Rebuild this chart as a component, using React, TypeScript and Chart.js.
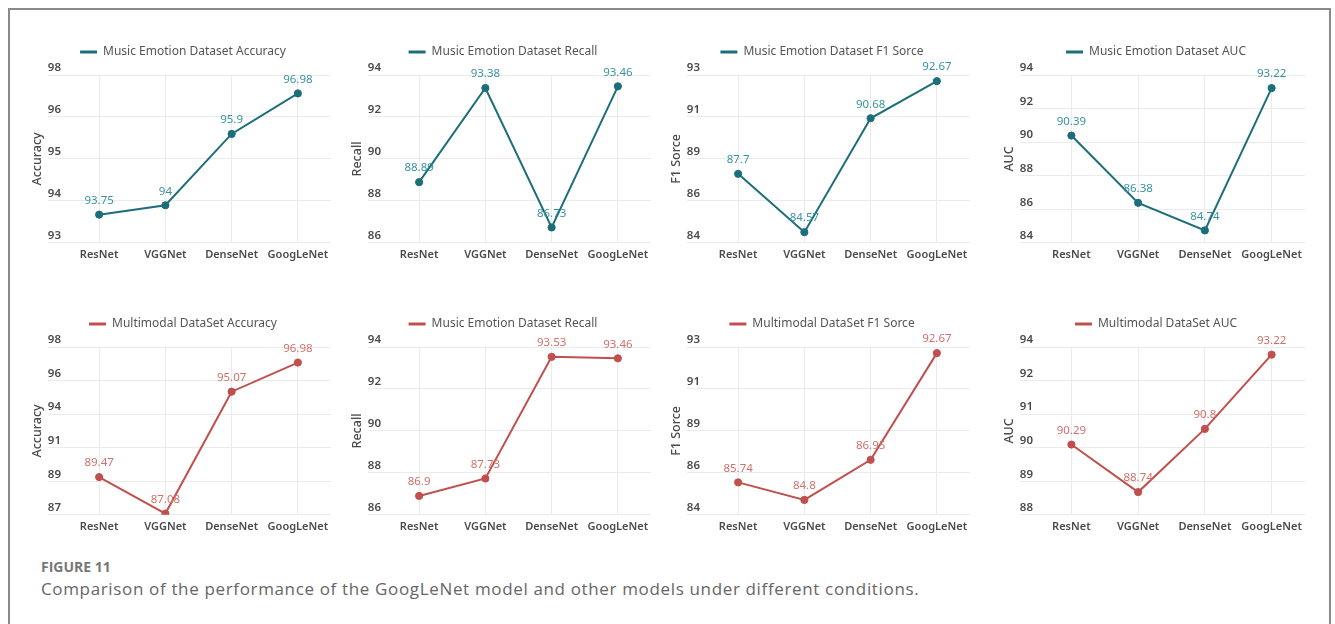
import React, { useEffect, useRef } from 'react';
import { Chart, registerables } from 'chart.js';

Chart.register(...registerables);

// Models compared in every panel
const models = ['ResNet', 'VGGNet', 'DenseNet', 'GoogLeNet'];

// Music Emotion dataset results
const musicAccuracy = [93.75, 94, 95.9, 96.98];
const musicRecall = [88.89, 93.38, 86.73, 93.46];
const musicF1 = [87.7, 84.57, 90.68, 92.67];
const musicAUC = [90.39, 86.38, 84.74, 93.22];

// Multimodal dataset results
const multiAccuracy = [89.47, 87.08, 95.07, 96.98];
const multiRecall = [86.9, 87.73, 93.53, 93.46];
const multiF1 = [85.74, 84.8, 86.95, 92.67];
const multiAUC = [90.29, 88.74, 90.8, 93.22];

// Y tick labels, bottom to top
const accTicksTop = ['93', '94', '95', '96', '98'];
const recallTicks = ['86', '88', '90', '92', '94'];
const f1Ticks = ['84', '86', '89', '91', '93'];
const aucTicksTop = ['84', '86', '88', '90', '92', '94'];
const accTicksBottom = ['87', '89', '91', '94', '96', '98'];
const aucTicksBottom = ['88', '89', '90', '91', '92', '94'];

const TEAL = '#1d6e7b';
const TEAL_LABEL = '#3a92a1';
const RED = '#c0504d';
const RED_LABEL = '#d0716c';
const GRID = '#ebebeb';
const AXIS_TEXT = '#4a4a4a';
const FONT = "'Noto Sans', 'Open Sans', sans-serif";

type PanelSpec = {
  left: number;
  top: number;
  width: number;
  height: number;
  legend: string;
  axisTitle: string;
  values: number[];
  yMin: number;
  yMax: number;
  tickLabels: string[];
  color: string;
  labelColor: string;
};

// Writes each point's value just above the marker
const valueLabels = {
  id: 'valueLabels',
  afterDatasetsDraw(chart: any) {
    const { ctx } = chart;
    chart.data.datasets.forEach((ds: any, di: number) => {
      const meta = chart.getDatasetMeta(di);
      ctx.save();
      ctx.font = `400 11.5px ${FONT}`;
      ctx.fillStyle = ds.valueColor;
      ctx.textAlign = 'center';
      ctx.textBaseline = 'middle';
      meta.data.forEach((pt: any, i: number) => {
        ctx.fillText(String(ds.data[i]), pt.x, pt.y - 14);
      });
      ctx.restore();
    });
  },
};

// Leaves some room between the legend and the plot
const legendGap = {
  id: 'legendGap',
  beforeInit(chart: any) {
    const legend = chart.legend;
    if (!legend) return;
    const fit = legend.fit;
    legend.fit = function () {
      fit.call(legend);
      this.height += 7;
    };
  },
};

function LinePanel(p: PanelSpec) {
  const ref = useRef<HTMLCanvasElement>(null);

  useEffect(() => {
    if (!ref.current) return;
    const chart = new Chart(ref.current, {
      type: 'line',
      data: {
        labels: models,
        datasets: [
          {
            label: p.legend,
            data: p.values,
            borderColor: p.color,
            backgroundColor: p.color,
            borderWidth: 2,
            pointRadius: 3.6,
            pointBackgroundColor: p.color,
            pointBorderColor: p.color,
            pointBorderWidth: 1,
            tension: 0,
            fill: false,
            valueColor: p.labelColor,
          } as any,
        ],
      },
      options: {
        animation: false,
        responsive: false,
        layout: { padding: 0 },
        plugins: {
          legend: {
            display: true,
            position: 'top',
            align: 'center',
            labels: {
              boxWidth: 17,
              boxHeight: 3,
              padding: 10,
              color: '#555',
              font: { family: FONT, size: 12 },
              generateLabels: (c: any) =>
                c.data.datasets.map((ds: any, i: number) => ({
                  text: ds.label,
                  fillStyle: ds.borderColor,
                  strokeStyle: ds.borderColor,
                  lineWidth: 0,
                  hidden: false,
                  datasetIndex: i,
                  fontColor: '#555',
                })),
            },
          },
          tooltip: { enabled: false },
        },
        scales: {
          x: {
            type: 'category',
            offset: true,
            grid: { color: GRID, drawTicks: false, offset: false },
            border: { display: false },
            ticks: {
              color: AXIS_TEXT,
              padding: 5,
              autoSkip: false,
              maxRotation: 0,
              minRotation: 0,
              font: { family: FONT, size: 11, weight: '600' },
            },
          },
          y: {
            type: 'linear',
            min: p.yMin,
            max: p.yMax,
            afterFit: (s: any) => {
              s.width = 36;
            },
            ticks: {
              count: p.tickLabels.length,
              callback: (_v: any, i: number) => p.tickLabels[i],
              color: AXIS_TEXT,
              padding: -13,
              labelOffset: -7,
              font: { family: FONT, size: 11.5, weight: '600' },
            },
            grid: { color: GRID, tickLength: 18, drawTicks: true },
            border: { display: false },
            title: {
              display: true,
              text: p.axisTitle,
              color: AXIS_TEXT,
              padding: { top: 0, bottom: 0 },
              font: { family: FONT, size: 12.5, weight: '500' },
            },
          },
        },
      },
      plugins: [valueLabels, legendGap],
    });
    return () => chart.destroy();
  }, []);

  return (
    <canvas
      ref={ref}
      width={p.width}
      height={p.height}
      style={{ position: 'absolute', left: p.left, top: p.top, width: p.width, height: p.height }}
    />
  );
}

const colLeft = [30, 350, 669, 1002];
const colWidth = [306, 306, 306, 308];
const rowTop = [36, 308];
const PANEL_H = 230;

const topRow = [
  { legend: 'Music Emotion Dataset Accuracy', axisTitle: 'Accuracy', values: musicAccuracy, yMin: 93, yMax: 97.47, tickLabels: accTicksTop },
  { legend: 'Music Emotion Dataset Recall', axisTitle: 'Recall', values: musicRecall, yMin: 86, yMax: 94, tickLabels: recallTicks },
  { legend: 'Music Emotion Dataset F1 Sorce', axisTitle: 'F1 Sorce', values: musicF1, yMin: 84, yMax: 93, tickLabels: f1Ticks },
  { legend: 'Music Emotion Dataset AUC', axisTitle: 'AUC', values: musicAUC, yMin: 84, yMax: 94, tickLabels: aucTicksTop },
];

const bottomRow = [
  { legend: 'Multimodal DataSet Accuracy', axisTitle: 'Accuracy', values: multiAccuracy, yMin: 87, yMax: 98, tickLabels: accTicksBottom },
  { legend: 'Music Emotion Dataset Recall', axisTitle: 'Recall', values: multiRecall, yMin: 86, yMax: 94, tickLabels: recallTicks },
  { legend: 'Multimodal DataSet F1 Sorce', axisTitle: 'F1 Sorce', values: multiF1, yMin: 84, yMax: 93, tickLabels: f1Ticks },
  { legend: 'Multimodal DataSet AUC', axisTitle: 'AUC', values: multiAUC, yMin: 88, yMax: 93.47, tickLabels: aucTicksBottom },
];

export default function App() {
  return (
    <div
      style={{
        position: 'absolute',
        left: 0,
        top: 0,
        width: 1335,
        height: 624,
        overflow: 'hidden',
        background: '#ffffff',
      }}
    >
      <div
        style={{
          position: 'absolute',
          left: 8,
          top: 8,
          width: 1323,
          height: 700,
          border: '2px solid #8a8a8a',
          boxSizing: 'border-box',
        }}
      />
      {topRow.map((s, i) => (
        <LinePanel
          key={'t' + i}
          {...s}
          left={colLeft[i]}
          top={rowTop[0]}
          width={colWidth[i]}
          height={PANEL_H}
          color={TEAL}
          labelColor={TEAL_LABEL}
        />
      ))}
      {bottomRow.map((s, i) => (
        <LinePanel
          key={'b' + i}
          {...s}
          left={colLeft[i]}
          top={rowTop[1]}
          width={colWidth[i]}
          height={PANEL_H}
          color={RED}
          labelColor={RED_LABEL}
        />
      ))}
      <div
        style={{
          position: 'absolute',
          left: 41,
          top: 558,
          lineHeight: '18px',
          fontFamily: "'Open Sans', sans-serif",
          fontWeight: 700,
          fontSize: 14,
          color: '#777',
          whiteSpace: 'nowrap',
        }}
      >
        FIGURE 11
      </div>
      <div
        style={{
          position: 'absolute',
          left: 41,
          top: 578,
          lineHeight: '22px',
          fontFamily: "'Open Sans', sans-serif",
          fontWeight: 400,
          fontSize: 17,
          letterSpacing: '0.65px',
          color: '#666',
          whiteSpace: 'nowrap',
        }}
      >
        Comparison of the performance of the GoogLeNet model and other models under different conditions.
      </div>
    </div>
  );
}
